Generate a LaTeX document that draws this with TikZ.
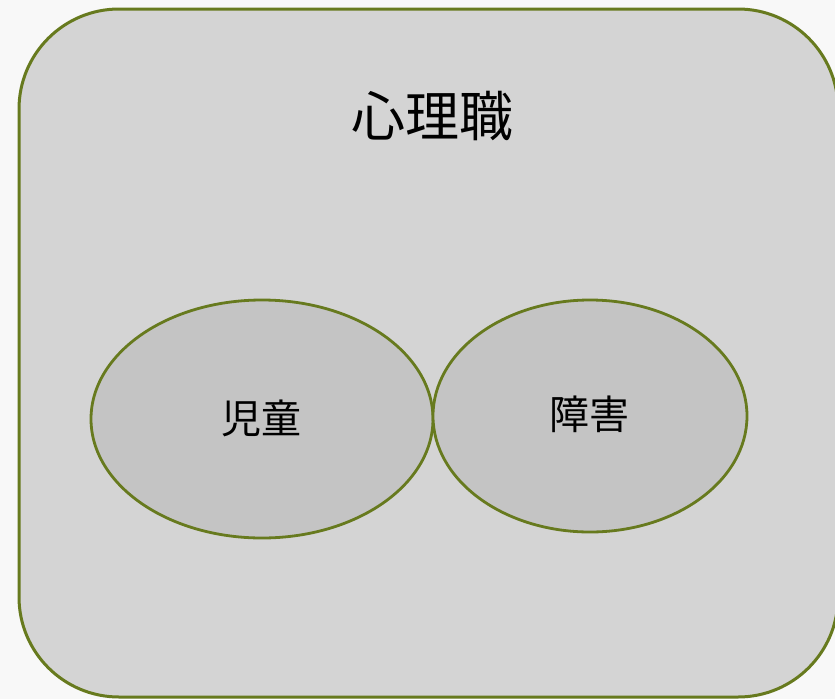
\documentclass[tikz,border=0pt]{standalone}
\usepackage{fontspec}
\newfontfamily\cjk{Noto Sans CJK JP}
\definecolor{olive}{HTML}{677A1E}
\definecolor{outerfill}{HTML}{D4D4D4}
\definecolor{innerfill}{HTML}{C4C4C4}
\definecolor{bgc}{HTML}{F8F8F8}
\begin{document}
\begin{tikzpicture}[x=1pt,y=-1pt,
  frame/.style={draw=olive,line width=3pt,fill=outerfill,rounded corners=100pt},
  blob/.style={draw=olive,line width=2.8pt,fill=innerfill},
  lbl/.style={font=\cjk\fontsize{40}{42}\selectfont,text=black,inner sep=0pt}]
\useasboundingbox (0,0) rectangle (835,699);
\fill[bgc] (0,0) rectangle (835,699);
\draw[frame] (19,9) rectangle (838,697);
\node[font=\cjk\fontsize{54}{56}\selectfont,inner sep=0pt] (title) at (432,116) {心理職};
\draw[blob] (262,419) ellipse [x radius=171, y radius=119];
\draw[blob] (590,416) ellipse [x radius=157, y radius=116];
\node[lbl] (a) at (261,418) {児童};
\node[lbl] (b) at (589,414) {障害};
\end{tikzpicture}
\end{document}
